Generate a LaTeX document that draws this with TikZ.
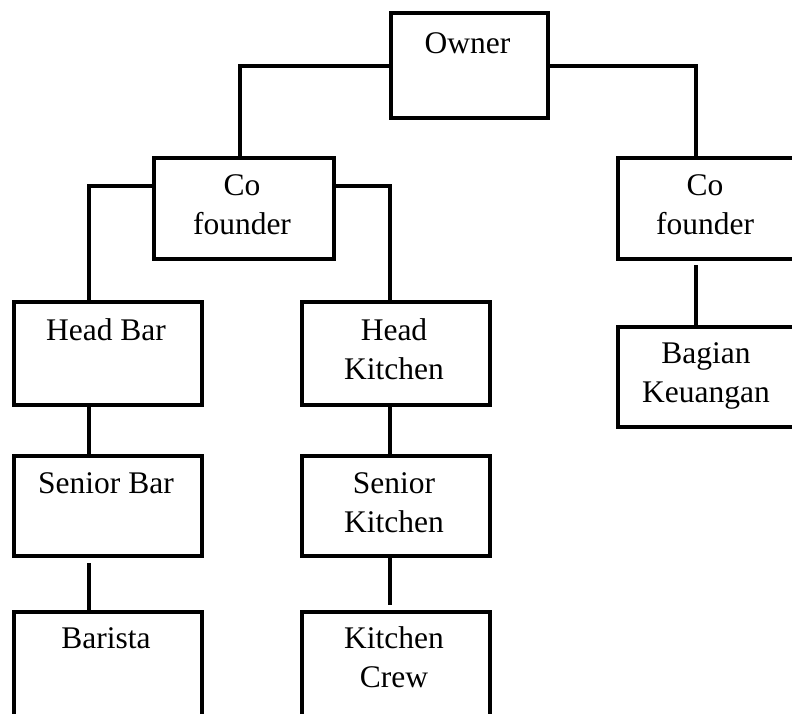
\documentclass[tikz,border=0pt]{standalone}
\usepackage{fontspec}
\setmainfont{Liberation Serif}
\begin{document}
\begin{tikzpicture}[x=1pt,y=-1pt,
  box/.style={draw=black, line width=4pt, line join=miter, inner sep=0pt, anchor=north west, fill=white},
  txt/.style={inner sep=0pt, anchor=base, font=\fontsize{31.5}{39}\selectfont},
  conn/.style={draw=black, line width=4pt, line join=miter}]
\useasboundingbox (0,0) rectangle (792,713);
\clip (0,0) rectangle (792,713);
\newcommand{\lbl}[1]{\renewcommand{\arraystretch}{1}\setlength{\tabcolsep}{0pt}\begin{tabular}[t]{c}#1\end{tabular}}
% boxes
\node[box, minimum width=157pt, minimum height=105pt] (owner) at (389,11) {};
\node[box, minimum width=180pt, minimum height=101pt] (coL) at (152,156) {};
\node[box, minimum width=182pt, minimum height=101pt] (coR) at (616,156) {};
\node[box, minimum width=188pt, minimum height=103pt] (headbar) at (12,300) {};
\node[box, minimum width=188pt, minimum height=103pt] (headkit) at (300,300) {};
\node[box, minimum width=182pt, minimum height=100pt] (bagian) at (616,325) {};
\node[box, minimum width=188pt, minimum height=100pt] (seniorbar) at (12,454) {};
\node[box, minimum width=188pt, minimum height=100pt] (seniorkit) at (300,454) {};
\node[box, minimum width=188pt, minimum height=115pt] (barista) at (12,610) {};
\node[box, minimum width=188pt, minimum height=115pt] (crew) at (300,610) {};
% texts
\node[txt] (tOwner) at (467.5,53) {\lbl{Owner}};
\node[txt] (tCoL) at (242,195) {\lbl{Co\\founder}};
\node[txt] (tCoR) at (705,195) {\lbl{Co\\founder}};
\node[txt] (tHeadBar) at (106,340) {\lbl{Head Bar}};
\node[txt] (tHeadKit) at (394,340) {\lbl{Head\\Kitchen}};
\node[txt] (tBagian) at (706,363) {\lbl{Bagian\\Keuangan}};
\node[txt] (tSeniorBar) at (106,493) {\lbl{Senior Bar}};
\node[txt] (tSeniorKit) at (394,493) {\lbl{Senior\\Kitchen}};
\node[txt] (tBarista) at (106,648) {\lbl{Barista}};
\node[txt] (tCrew) at (394,648) {\lbl{Kitchen\\Crew}};
% connectors
\draw[conn] (owner.west) -| ([xshift=-4pt]coL.north);
\draw[conn] (owner.east) -| ([xshift=-13pt]coR.north);
\draw[conn] ([yshift=22.5pt]coL.west) -| ([xshift=-19pt]headbar.north);
\draw[conn] ([yshift=22.5pt]coL.east) -| ([xshift=-6pt]headkit.north);
\draw[conn, shorten <=4pt] ([xshift=-13pt]coR.south) -- ([xshift=-13pt]bagian.north);
\draw[conn] ([xshift=-19pt]headbar.south) -- ([xshift=-19pt]seniorbar.north);
\draw[conn, shorten <=5pt] ([xshift=-19pt]seniorbar.south) -- ([xshift=-19pt]barista.north);
\draw[conn] ([xshift=-6pt]headkit.south) -- ([xshift=-6pt]seniorkit.north);
\draw[conn, shorten >=5pt] ([xshift=-6pt]seniorkit.south) -- ([xshift=-6pt]crew.north);
\end{tikzpicture}
\end{document}
